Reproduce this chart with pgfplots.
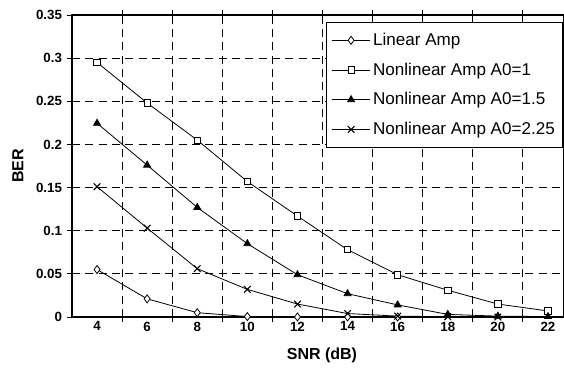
\documentclass[border=0pt]{standalone}
\usepackage{fontspec}
\setmainfont{Liberation Sans}
\usepackage{pgfplots}
\pgfplotsset{compat=1.18}
\begin{document}
\begin{tikzpicture}
\begin{axis}[
  scale only axis, width=369pt, height=226.5pt,
  xmin=3, xmax=22.64, ymin=0, ymax=0.35,
  axis line style={black, line width=0.8pt},
  xtick={5,7,...,21}, xticklabels={},
  extra x ticks={4,6,...,22},
  extra x tick labels={4,6,8,10,12,14,16,18,20,22},
  extra x tick style={major tick length=0pt, grid=none},
  ytick={0,0.05,0.1,0.15,0.2,0.25,0.3,0.35},
  yticklabels={0,0.05,0.1,0.15,0.2,0.25,0.3,0.35},
  tick align=outside, major tick length=4pt,
  tick style={black, line width=0.7pt},
  grid=major,
  major grid style={black, line width=0.7pt, dash pattern=on 6pt off 4pt},
  /pgf/number format/assume math mode=true,
  tick label style={font=\bfseries\fontsize{10}{12}\selectfont},
  xlabel={SNR (dB)}, ylabel={BER},
  label style={font=\bfseries\fontsize{12}{14}\selectfont},
  xlabel style={at={(axis description cs:0.508,-0.126)}, anchor=center},
  ylabel style={at={(axis description cs:-0.11,0.5)}, anchor=center},
  legend style={at={(axis description cs:0.516,0.977)}, anchor=north west,
    draw=black, line width=0.8pt, fill=white, font=\fontsize{12.8}{15}\selectfont,
    row sep=7.5pt, inner xsep=4pt, inner ysep=6pt, cells={anchor=west}},
  legend image code/.code={\draw[mark repeat=2,mark phase=2,#1] plot coordinates {(0cm,0cm) (0.5cm,0cm) (1cm,0cm)};},
  legend image post style={line width=0.6pt},
  every axis plot/.append style={black, line width=0.6pt},
]
\addplot[mark=diamond*, mark options={fill=white, solid}, mark size=3pt] coordinates {
 (4,0.055) (6,0.021) (8,0.005) (10,0.0005) (12,0) (14,0) (16,0)};
\addlegendentry{Linear Amp}
\addplot[mark=square*, mark options={fill=white, solid}, mark size=2.4pt] coordinates {
 (4,0.295) (6,0.248) (8,0.205) (10,0.157) (12,0.117) (14,0.078) (16,0.049) (18,0.031) (20,0.015) (22,0.007)};
\addlegendentry{Nonlinear Amp A0=1}
\addplot[mark=triangle*, mark options={fill=black, solid}, mark size=3pt] coordinates {
 (4,0.2245) (6,0.176) (8,0.127) (10,0.085) (12,0.049) (14,0.027) (16,0.014) (18,0.003) (20,0.001) (22,0.0005)};
\addlegendentry{Nonlinear Amp A0=1.5}
\addplot[mark=x, mark options={solid, line width=0.8pt}, mark size=3.5pt] coordinates {
 (4,0.151) (6,0.103) (8,0.056) (10,0.032) (12,0.015) (14,0.004) (16,0.001) (18,0.0003) (20,0)};
\addlegendentry{Nonlinear Amp A0=2.25}
\end{axis}
\pgfresetboundingbox
\path ([shift={(-54pt,-47.25pt)}]current axis.south west) rectangle ([shift={(0pt,11.25pt)}]current axis.north east);
\end{tikzpicture}
\end{document}
